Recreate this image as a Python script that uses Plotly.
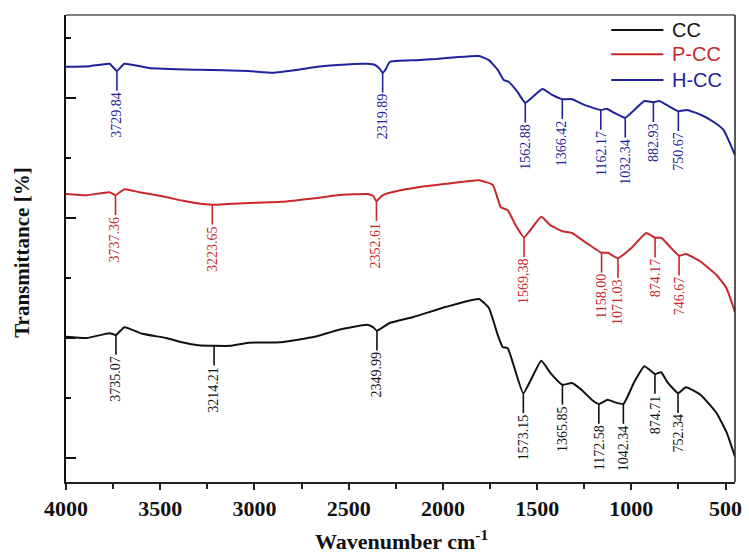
import numpy as np
import plotly.graph_objects as go

# ---------------- data ----------------
wn_cc = [4000, 3890, 3769, 3735.07, 3690, 3595, 3469, 3385, 3296, 3214.21, 3122, 3033, 2860, 2681,
         2560, 2402, 2371, 2349.99, 2318, 2282, 2156, 1982, 1809, 1756, 1709, 1683, 1656, 1625,
         1573.15, 1478, 1430, 1365.85, 1315, 1262, 1210, 1172.58, 1126, 1089, 1042.34, 984, 931,
         874.71, 842, 810, 752.34, 710, 632, 548, 495, 450]
t_cc = [20.2, 20.0, 20.8, 20.5, 21.8, 20.7, 20.0, 19.3, 18.8, 18.7, 18.7, 19.2, 19.3, 20.2,
        21.3, 22.2, 21.8, 21.2, 21.8, 22.5, 23.5, 25.2, 26.5, 25.0, 20.5, 18.5, 18.3, 15.5,
        10.8, 16.2, 14.2, 12.2, 12.5, 11.3, 9.7, 9.0, 9.7, 9.3, 9.0, 12.7, 15.3,
        14.0, 14.3, 12.7, 10.8, 11.8, 10.5, 7.5, 4.3, 0.2]

wn_pcc = [4000, 3890, 3769, 3737.36, 3690, 3611, 3469, 3385, 3296, 3223.65, 3033, 2860, 2681, 2560,
          2402, 2371, 2352.61, 2324, 2282, 2156, 1982, 1809, 1735, 1693, 1656, 1614, 1569.38, 1478,
          1430, 1367, 1315, 1246, 1158.00, 1126, 1071.03, 1000, 921, 874.17, 842, 789, 746.67, 710,
          632, 548, 495, 450]
t_pcc = [44.0, 43.8, 44.3, 43.8, 44.8, 44.3, 43.5, 42.9, 42.4, 42.2, 42.5, 42.7, 43.3, 43.8,
         44.0, 43.7, 42.8, 43.7, 44.2, 45.0, 45.7, 46.3, 45.5, 41.8, 41.3, 38.8, 36.8, 40.2,
         38.8, 37.8, 37.5, 36.0, 34.2, 34.2, 33.3, 35.0, 37.5, 36.7, 36.7, 35.0, 33.7, 34.0,
         32.7, 30.5, 28.3, 24.3]

wn_hcc = [4000, 3874, 3769, 3729.84, 3690, 3559, 3296, 3033, 2902, 2770, 2665, 2560, 2402, 2360,
          2334, 2319.89, 2303, 2282, 2140, 2035, 1930, 1809, 1756, 1709, 1677, 1651, 1604, 1562.88,
          1472, 1420, 1366.42, 1315, 1246, 1162.17, 1131, 1089, 1032.34, 931, 882.93, 852, 810,
          750.67, 705, 632, 563, 511, 450]
t_hcc = [65.2, 65.3, 65.7, 64.5, 65.7, 65.0, 64.7, 64.5, 64.2, 64.7, 65.2, 65.5, 65.7, 65.5,
         64.8, 64.2, 64.8, 66.0, 66.3, 66.5, 66.8, 67.0, 66.3, 64.7, 63.0, 62.7, 61.0, 59.2,
         61.5, 60.5, 59.8, 59.8, 58.8, 58.0, 58.2, 57.5, 56.7, 59.5, 59.3, 59.5, 58.8, 57.8,
         58.0, 57.2, 56.0, 54.7, 50.5]

peaks_cc = [3735.07, 3214.21, 2349.99, 1573.15, 1365.85, 1172.58, 1042.34, 874.71, 752.34]
labels_cc = ["3735.07", "3214.21", "2349.99", "1573.15", "1365.85", "1172.58", "1042.34", "874.71", "752.34"]
peaks_pcc = [3737.36, 3223.65, 2352.61, 1569.38, 1158.00, 1071.03, 874.17, 746.67]
labels_pcc = ["3737.36", "3223.65", "2352.61", "1569,38", "1158,00", "1071.03", "874.17", "746.67"]
peaks_hcc = [3729.84, 2319.89, 1562.88, 1366.42, 1162.17, 1032.34, 882.93, 750.67]
labels_hcc = ["3729.84", "2319.89", "1562.88", "1366.42", "1162.17", "1032.34", "882.93", "750.67"]

series_names = ["CC", "P-CC", "H-CC"]
x_ticks = [4000, 3500, 3000, 2500, 2000, 1500, 1000, 500]

# ---------------- styling ----------------
colors = ["#111111", "#c8282c", "#1f229c"]
SERIF = "Liberation Serif, Times New Roman, serif"
SANS = "Liberation Sans, Arial, sans-serif"
LEAD = 3.3  # length of peak marker lines (y units)

series = [(wn_cc, t_cc, peaks_cc, labels_cc),
          (wn_pcc, t_pcc, peaks_pcc, labels_pcc),
          (wn_hcc, t_hcc, peaks_hcc, labels_hcc)]

fig = go.Figure()
shapes = []
annotations = []

for (wn, tt, pk, lb), name, col in zip(series, series_names, colors):
    fig.add_trace(go.Scatter(x=wn, y=tt, mode="lines", name=name,
                             line=dict(color=col, width=2, shape="spline", smoothing=0.4),
                             showlegend=False, hoverinfo="skip"))
    xs = np.array(wn[::-1], dtype=float)
    ys = np.array(tt[::-1], dtype=float)
    for p, txt in zip(pk, lb):
        yv = float(np.interp(p, xs, ys))
        shapes.append(dict(type="line", xref="x", yref="y", x0=p, x1=p, y0=yv, y1=yv - LEAD,
                           line=dict(color=col, width=1.6)))
        annotations.append(dict(x=p, y=yv - LEAD, xref="x", yref="y", text=txt, showarrow=False,
                                textangle=-90, xanchor="center", yanchor="top", borderpad=0,
                                font=dict(family=SERIF, size=14, color=col)))

# custom legend (top-right, inside)
leg_y = [0.968, 0.916, 0.861]
for name, col, ly in zip(series_names, colors, leg_y):
    shapes.append(dict(type="line", xref="paper", yref="paper", x0=0.815, x1=0.893, y0=ly, y1=ly,
                       line=dict(color=col, width=2)))
    annotations.append(dict(x=0.903, y=ly, xref="paper", yref="paper", text=name, showarrow=False,
                            xanchor="left", yanchor="middle",
                            font=dict(family=SANS, size=20, color=col)))

# frame: top (grey) and right
shapes.append(dict(type="line", xref="paper", yref="paper", x0=0, x1=1, y0=1, y1=1,
                   line=dict(color="#808080", width=2)))
shapes.append(dict(type="line", xref="paper", yref="paper", x0=1, x1=1, y0=0, y1=1,
                   line=dict(color="#222222", width=1.5)))

# axis titles
annotations.append(dict(x=0.5015, y=-0.125, xref="paper", yref="paper",
                        text="<b>Wavenumber cm<sup>-1</sup></b>", showarrow=False,
                        xanchor="center", yanchor="middle",
                        font=dict(family=SERIF, size=22, color="#111111")))
annotations.append(dict(x=-0.066, y=0.4925, xref="paper", yref="paper",
                        text="<b>Transmittance [%]</b>", showarrow=False, textangle=-90,
                        xanchor="center", yanchor="middle",
                        font=dict(family=SERIF, size=21, color="#111111")))

fig.update_layout(
    width=749, height=555,
    margin=dict(l=66, r=7, t=15, b=73),
    paper_bgcolor="white", plot_bgcolor="white",
    shapes=shapes, annotations=annotations,
)
fig.update_xaxes(range=[4000, 450], tickvals=x_ticks, ticktext=[f"<b>{v}</b>" for v in x_ticks],
                 showgrid=False, zeroline=False, showline=True, linecolor="#222222", linewidth=2,
                 ticks="outside", ticklen=6, tickwidth=1.5, tickcolor="#222222",
                 tickfont=dict(family=SERIF, size=22, color="#111111"),
                 minor=dict(ticks="outside", ticklen=5, tickwidth=1.5, tickcolor="#222222", dtick=250, tick0=0))
fig.update_yaxes(range=[-4, 73.83], showticklabels=False, showgrid=False, zeroline=False,
                 showline=True, linecolor="#111111", linewidth=2,
                 ticks="inside", ticklen=10, tickwidth=2, tickcolor="#111111", dtick=20, tick0=0,
                 minor=dict(ticks="inside", ticklen=5, tickwidth=1.5, tickcolor="#111111", dtick=10, tick0=0))

fig.write_html("out.html", config={"displayModeBar": False},
               post_script="document.body.style.margin='0';document.body.style.overflow='hidden';")
